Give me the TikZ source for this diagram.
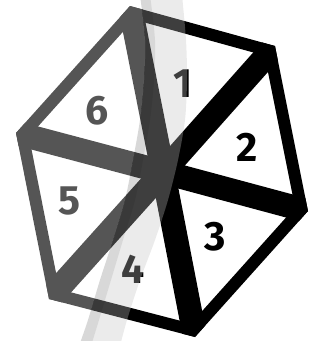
\documentclass[tikz,border=0pt]{standalone}
\usepackage{fontspec}
\setmainfont{Fira Sans}
\begin{document}
\begin{tikzpicture}[x=1pt,y=-1pt,
  edge/.style={line width=24pt, line join=miter, draw=black},
  digit/.style={font=\fontsize{41}{41}\selectfont\bfseries, inner sep=0pt, text=black}]
\useasboundingbox (0,0) rectangle (321,341);
\coordinate (A) at (130,6);
\coordinate (B) at (275,46);
\coordinate (C) at (308,211);
\coordinate (D) at (195,337);
\coordinate (E) at (49,299);
\coordinate (F) at (16,133);
\coordinate (O) at (163,172);
\begin{scope}
  \clip (A) -- (B) -- (C) -- (D) -- (E) -- (F) -- cycle;
  \draw[edge] (A) -- (B) -- (C) -- (D) -- (E) -- (F) -- cycle;
  \foreach \p in {A,B,C,D,E,F}{ \draw[edge] (O) -- (\p); }
\end{scope}
\node[digit] (n1) at (183,84) {1};
\node[digit] (n2) at (247,147) {2};
\node[digit] (n3) at (215,237) {3};
\node[digit] (n4) at (133,269) {4};
\node[digit] (n5) at (69,201) {5};
\node[digit] (n6) at (97,111) {6};
% white veil left of the band
\fill[white, opacity=0.333] (-5,-5) -- plot[smooth] coordinates {(140,-5) (145,40) (144,80) (140,120) (133,160) (125,200) (113,240) (100,280) (88,320) (79,346)} -- (-5,346) -- cycle;
% grey band
\fill[gray!49, opacity=0.32] plot[smooth] coordinates {(140,-5) (145,40) (144,80) (140,120) (133,160) (125,200) (113,240) (100,280) (88,320) (79,346)}
  -- plot[smooth] coordinates {(120,346) (127,320) (140,280) (155,240) (168,200) (178,160) (185,120) (187,80) (186,40) (182,-5)} -- cycle;
% darker strip on the band's left edge
\fill[black, opacity=0.08] plot[smooth] coordinates {(140,-5) (145,40) (144,80) (140,120) (133,160) (125,200) (113,240) (100,280) (88,320) (79,346)}
  -- plot[smooth] coordinates {(91,346) (99,320) (111,280) (123,240) (135,200) (143,160) (150,120) (154,80) (155,40) (150,-5)} -- cycle;
\end{tikzpicture}
\end{document}
